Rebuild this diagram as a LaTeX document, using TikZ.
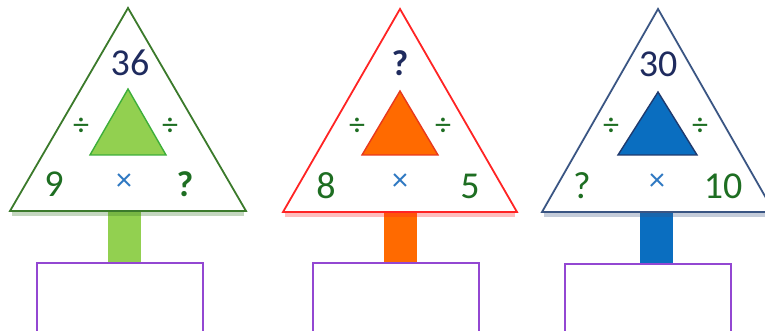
\documentclass[tikz,border=0pt]{standalone}
\usepackage{fontspec}
\setmainfont{Carlito}
\usetikzlibrary{positioning}
\definecolor{edgeGreen}{HTML}{3B7A2B}
\definecolor{leafGreen}{HTML}{92D050}
\definecolor{innerGreen}{HTML}{3DAE3A}
\definecolor{edgeRed}{HTML}{FF2424}
\definecolor{leafOrange}{HTML}{FF6A00}
\definecolor{innerRed}{HTML}{E8381C}
\definecolor{edgeNavy}{HTML}{3A5583}
\definecolor{leafBlue}{HTML}{0A6EC0}
\definecolor{innerNavy}{HTML}{1F3A6E}
\definecolor{numNavy}{HTML}{1F2B5E}
\definecolor{numGreen}{HTML}{1E6E22}
\definecolor{opBlue}{HTML}{2E78C2}
\definecolor{boxPurple}{HTML}{9347D2}

\begin{document}
\begin{tikzpicture}[x=1pt,y=-1pt,
  tri/.style={fill=white,line width=1.8pt,line join=miter},
  inner/.style={line width=1.4pt,line join=miter},
  glow/.style={line width=4pt,opacity=0.3},
  stem/.style={line width=33pt},
  num/.style={inner sep=0pt,font=\fontsize{38}{40}\selectfont},
  op/.style={inner sep=0pt,font=\fontsize{32}{34}\selectfont},
  answer/.style={draw=boxPurple,line width=1.6pt,fill=white,minimum width=166pt,minimum height=76pt}]
  \useasboundingbox (0,0) rectangle (765,331);

  % answer boxes under the trees
  \node[answer] (ans1) at (120,301) {};
  \node[answer] (ans2) at (396,301) {};
  \node[answer] (ans3) at (648,302) {};
  \coordinate (base1) at (124.5,211);
  \coordinate (base2) at (400,212);
  \coordinate (base3) at (656.5,212);
  \draw[stem,leafGreen] (base1) -- (base1 |- ans1.north);
  \draw[stem,leafOrange] (base2) -- (base2 |- ans2.north);
  \draw[stem,leafBlue] (base3) -- (base3 |- ans3.north);

  % first tree
  \draw[glow,edgeGreen] (12,214) -- (244,214);
  \draw[tri,draw=edgeGreen] (128,8) -- (246,211) -- (10,211) -- cycle;
  \draw[inner,draw=innerGreen,fill=leafGreen] (128,89) -- (166,155) -- (90,155) -- cycle;
  \node[num,text=numNavy] (top1) at (130,63) {36};
  \node[op,text=numGreen] (divl1) at (81,127) {÷};
  \node[op,text=numGreen] (divr1) at (170,127) {÷};
  \node[num,text=numGreen] (left1) at (54,184) {9};
  \node[op,text=opBlue] (mul1) at (124,182) {×};
  \node[num,text=numGreen,font=\fontsize{36}{38}\selectfont\bfseries] (right1) at (185,184) {?};

  % second tree
  \draw[glow,edgeRed] (285,215) -- (515,215);
  \draw[tri,draw=edgeRed] (400,9) -- (517,212) -- (283,212) -- cycle;
  \draw[inner,draw=innerRed,fill=leafOrange] (400,91) -- (438,155) -- (362,155) -- cycle;
  \node[num,text=numNavy,font=\fontsize{36}{38}\selectfont\bfseries] (top2) at (400,63) {?};
  \node[op,text=numGreen] (divl2) at (357,127) {÷};
  \node[op,text=numGreen] (divr2) at (443,127) {÷};
  \node[num,text=numGreen] (left2) at (326,186) {8};
  \node[op,text=opBlue] (mul2) at (400,182) {×};
  \node[num,text=numGreen] (right2) at (470,186) {5};

  % third tree
  \draw[glow,edgeNavy] (544,215) -- (772,215);
  \draw[tri,draw=edgeNavy] (658,9) -- (774,212) -- (542,212) -- cycle;
  \draw[inner,draw=innerNavy,fill=leafBlue] (658,92) -- (697,155) -- (618,155) -- cycle;
  \node[num,text=numNavy] (top3) at (658,64) {30};
  \node[op,text=numGreen] (divl3) at (611,127) {÷};
  \node[op,text=numGreen] (divr3) at (700,127) {÷};
  \node[num,text=numGreen] (left3) at (582,186) {?};
  \node[op,text=opBlue] (mul3) at (657,182) {×};
  \node[num,text=numGreen] (right3) at (723,186) {10};
\end{tikzpicture}
\end{document}
